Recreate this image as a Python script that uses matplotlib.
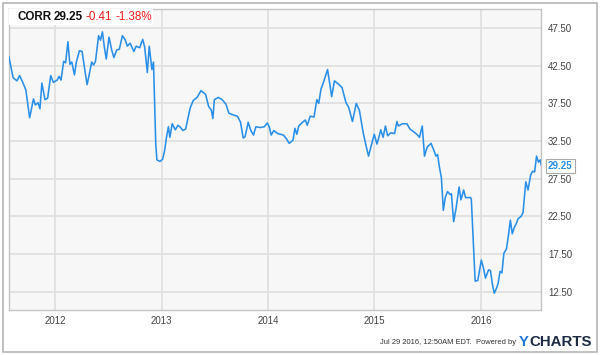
import numpy as np
import matplotlib
matplotlib.use('Agg')
import matplotlib.pyplot as plt
from matplotlib.patches import Rectangle

plt.rcParams['font.family'] = ['Liberation Sans', 'DejaVu Sans']

# CORR weekly-ish closes (decimal years, price)
years = [2011.564, 2011.604, 2011.640, 2011.665, 2011.694, 2011.723, 2011.759, 2011.795, 2011.813, 2011.838,
         2011.856, 2011.874, 2011.903, 2011.928, 2011.957, 2011.982, 2012.018, 2012.036, 2012.054, 2012.079,
         2012.097, 2012.119, 2012.137, 2012.155, 2012.180, 2012.198, 2012.227, 2012.252, 2012.277, 2012.299,
         2012.317, 2012.342, 2012.360, 2012.378, 2012.407, 2012.425, 2012.443, 2012.461, 2012.479, 2012.505,
         2012.530, 2012.551, 2012.577, 2012.602, 2012.631, 2012.659, 2012.677, 2012.703, 2012.739, 2012.760,
         2012.793, 2012.822, 2012.840, 2012.865, 2012.883, 2012.908, 2012.923, 2012.944, 2012.955, 2012.984,
         2013.009, 2013.027, 2013.045, 2013.063, 2013.077, 2013.099, 2013.128, 2013.153, 2013.171, 2013.200,
         2013.225, 2013.268, 2013.297, 2013.333, 2013.369, 2013.413, 2013.441, 2013.467, 2013.481, 2013.495,
         2013.532, 2013.568, 2013.604, 2013.632, 2013.668, 2013.712, 2013.741, 2013.766, 2013.784, 2013.813,
         2013.838, 2013.863, 2013.885, 2013.928, 2013.964, 2013.993, 2014.011, 2014.029, 2014.054, 2014.090,
         2014.144, 2014.173, 2014.198, 2014.234, 2014.252, 2014.270, 2014.288, 2014.324, 2014.350, 2014.368,
         2014.396, 2014.432, 2014.458, 2014.476, 2014.497, 2014.523, 2014.559, 2014.598, 2014.623, 2014.667,
         2014.695, 2014.732, 2014.757, 2014.793, 2014.829, 2014.858, 2014.894, 2014.919, 2014.944, 2014.973,
         2014.998, 2015.023, 2015.045, 2015.059, 2015.081, 2015.103, 2015.124, 2015.153, 2015.189, 2015.211,
         2015.225, 2015.261, 2015.305, 2015.333, 2015.362, 2015.398, 2015.423, 2015.449, 2015.470, 2015.495,
         2015.532, 2015.560, 2015.578, 2015.593, 2015.611, 2015.629, 2015.647, 2015.665, 2015.686, 2015.712,
         2015.723, 2015.744, 2015.766, 2015.795, 2015.813, 2015.838, 2015.856, 2015.903, 2015.910, 2015.932,
         2015.946, 2015.971, 2016.004, 2016.025, 2016.043, 2016.072, 2016.090, 2016.108, 2016.126, 2016.148,
         2016.162, 2016.180, 2016.198, 2016.216, 2016.241, 2016.259, 2016.277, 2016.295, 2016.313, 2016.331,
         2016.350, 2016.378, 2016.396, 2016.422, 2016.443, 2016.468, 2016.486, 2016.505, 2016.523, 2016.541,
         2016.559, 2016.569]
price = [43.7, 40.9, 40.5, 41.2, 40.3, 39.3, 35.6, 38.1, 37.3, 37.6,
         36.8, 40.2, 38.0, 38.2, 41.2, 40.3, 40.6, 41.1, 40.6, 43.1,
         42.9, 45.7, 42.7, 43.0, 41.3, 43.0, 44.5, 44.4, 42.0, 40.0,
         41.2, 43.0, 42.6, 43.1, 46.5, 45.9, 47.0, 45.0, 43.4, 46.3,
         44.6, 43.6, 44.6, 44.7, 46.5, 45.9, 45.1, 45.5, 44.4, 45.1,
         44.9, 46.0, 45.0, 41.6, 45.1, 42.0, 43.0, 32.2, 30.0, 29.8,
         30.1, 31.2, 33.0, 34.4, 33.0, 34.8, 34.0, 34.6, 34.4, 33.9,
         34.1, 36.9, 37.9, 38.3, 39.2, 38.7, 37.1, 36.6, 35.5, 38.0,
         38.3, 38.0, 37.4, 36.2, 36.0, 35.8, 35.0, 32.9, 33.1, 35.0,
         33.9, 33.3, 34.4, 34.3, 34.4, 34.9, 34.4, 33.3, 33.9, 33.5,
         33.3, 32.8, 32.2, 32.6, 34.2, 33.4, 34.5, 35.0, 35.3, 34.6,
         35.8, 35.7, 38.0, 37.5, 39.4, 40.4, 42.0, 38.4, 40.5, 40.0,
         39.6, 37.6, 37.0, 35.1, 37.5, 36.6, 33.6, 32.0, 30.5, 32.1,
         33.4, 32.1, 33.2, 34.0, 33.0, 34.5, 33.2, 33.6, 33.5, 35.1,
         34.5, 34.8, 34.8, 34.1, 33.8, 33.4, 33.0, 34.5, 30.5, 31.7,
         32.2, 31.2, 30.5, 30.7, 29.0, 27.6, 23.3, 25.0, 25.8, 25.4,
         25.5, 21.8, 23.5, 26.4, 24.7, 26.0, 25.0, 25.0, 24.8, 18.1,
         13.9, 14.0, 16.7, 15.6, 14.3, 15.4, 15.3, 13.5, 12.3, 13.0,
         13.6, 15.2, 15.0, 17.6, 18.2, 20.0, 22.0, 20.2, 21.0, 21.5,
         22.2, 22.5, 23.0, 27.1, 26.0, 28.0, 28.5, 28.4, 30.5, 29.7,
         30.0, 29.25]

year_ticks = [2012, 2013, 2014, 2015, 2016]
price_ticks = [12.5, 17.5, 22.5, 27.5, 32.5, 37.5, 42.5, 47.5]

ticker_name = 'CORR'
last_price = '29.25'
change = '-0.41'
change_pct = '-1.38%'

fig = plt.figure(figsize=(6, 3.55), dpi=100)
fig.patch.set_facecolor('white')

# outer frame
fig.patches.append(Rectangle((3/600, 3/355), 594/600, 349/355, transform=fig.transFigure,
                             fill=False, edgecolor='#b5b5b5', linewidth=1.2))

ax = fig.add_axes([9/600, 1 - 310/355, 532/600, 300.7/355])
ax.set_facecolor('#f7f7f7')
ax.plot(years, price, '-', color='#2a8fe8', linewidth=1.15, zorder=3)

ax.set_xlim(2011.565, 2016.565)
ax.set_ylim(10.07, 50.0)
ax.set_xticks(year_ticks)
ax.set_xticklabels([str(y) for y in year_ticks])
ax.set_yticks(price_ticks)
ax.set_yticklabels(['{:.2f}'.format(p) for p in price_ticks])
ax.yaxis.tick_right()
ax.tick_params(axis='both', length=0, labelsize=7, labelcolor='#444444')
ax.tick_params(axis='x', pad=4)
ax.tick_params(axis='y', pad=5)
ax.grid(True, color='#e0e0e0', linewidth=1.3)
ax.set_axisbelow(True)
for s in ax.spines.values():
    s.set_color('#c4c4c4')
    s.set_linewidth(1.0)

# header box
ax.add_patch(Rectangle((0, 1 - 16/300.7), 144/532, 16/300.7, transform=ax.transAxes,
                       facecolor='white', edgecolor='none', zorder=4))
hy = 1 - 8/300.7
ax.text(8/532, hy, ticker_name, transform=ax.transAxes, fontsize=8.4, fontweight='bold',
        color='#111111', va='center', zorder=5)
ax.text(45/532, hy, last_price, transform=ax.transAxes, fontsize=8.4, fontweight='bold',
        color='#111111', va='center', zorder=5)
ax.text(77/532, hy, change, transform=ax.transAxes, fontsize=8.4,
        color='#ee1c1c', va='center', zorder=5)
ax.text(106/532, hy, change_pct, transform=ax.transAxes, fontsize=8.4,
        color='#ee1c1c', va='center', zorder=5)

# last price tag
ax.annotate(last_price, xy=(years[-1], price[-1]), xycoords='data',
            xytext=(1.0 + 7/532, price[-1]), textcoords=('axes fraction', 'data'),
            fontsize=7, fontweight='bold', color='#2a8fe8', va='center', ha='left',
            bbox=dict(boxstyle='square,pad=0.2', facecolor='white', edgecolor='#aaaaaa', linewidth=0.8),
            annotation_clip=False, zorder=6)

# footer
fig.text(516/600, 1 - 343/355, 'Jul 29 2016, 12:50AM EDT.  Powered by', fontsize=5.4,
         color='#333333', ha='right', va='center')
fig.text(519/600, 1 - 342/355, 'Y', fontsize=10.8, fontweight='bold', color='#1f78d1',
         ha='left', va='center')
fig.text(529/600, 1 - 342/355, 'CHARTS', fontsize=10.8, fontweight='bold', color='#1c2a44',
         ha='left', va='center')

fig.savefig('out.png', dpi=100)
